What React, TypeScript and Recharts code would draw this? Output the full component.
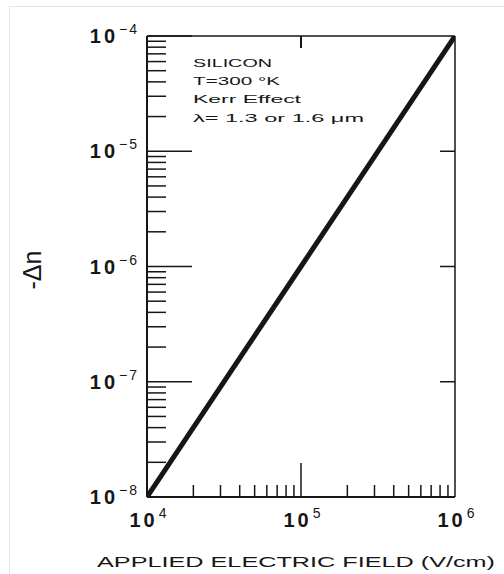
import { Line, LineChart, XAxis, YAxis } from 'recharts';

// Kerr effect in silicon: -Δn vs applied field (log-log)
const fieldValues = [1e4, 1e5, 1e6];
const deltaNValues = [1e-8, 1e-6, 1e-4];

const xDecades = [1e4, 1e5, 1e6];
const xDecadeLabels = ['4', '5', '6'];
const yDecades = [1e-8, 1e-7, 1e-6, 1e-5, 1e-4];
const yDecadeLabels = ['−8', '−7', '−6', '−5', '−4'];
const minorSteps = [2, 3, 4, 5, 6, 7, 8, 9];

const annotationLines = ['SILICON', 'T=300 °K', 'Kerr Effect', 'λ= 1.3 or 1.6 μm'];
const xTitle = 'APPLIED ELECTRIC FIELD (V/cm)';
const yTitle = '-Δn';

const INK = '#161616';
const FONT = '"Liberation Sans", Arial, sans-serif';

// layout
const W = 504;
const H = 574;
const MARGIN = { top: 35, right: 48, bottom: 37, left: 87 };
const X_AXIS_H = 40;
const TOP_AXIS_H = 1;
const PLOT_H = H - MARGIN.top - MARGIN.bottom - X_AXIS_H - TOP_AXIS_H;

const chartData = fieldValues.map((field, i) => ({ field, deltaN: deltaNValues[i] }));

const withMinors = (decades: number[]) => [
  ...decades,
  ...decades.slice(0, -1).flatMap((d) => minorSteps.map((m) => d * m)),
];
const xTicks = withMinors(xDecades);
const yTicks = withMinors(yDecades);

const decadeIndex = (value: number, decades: number[]) =>
  decades.findIndex((d) => Math.abs(value / d - 1) < 1e-6);

function PowerLabel({ x, y, exponent, anchor }: { x: number; y: number; exponent: string; anchor: 'start' | 'middle' | 'end' }) {
  return (
    <text x={x} y={y} textAnchor={anchor} fontFamily={FONT} fill={INK}>
      <tspan fontSize={20} fontWeight="bold" letterSpacing={3}>10</tspan>
      <tspan dx={1} dy={-9} fontSize={14} letterSpacing={2}>{exponent}</tspan>
    </text>
  );
}

function BottomTick({ x, y, payload }: any) {
  const idx = decadeIndex(payload.value, xDecades);
  const len = idx === 1 ? 34 : idx === -1 ? 12 : 0;
  const top = y - PLOT_H;
  return (
    <g>
      {len > 0 && <line x1={x} x2={x} y1={y} y2={y - len} stroke={INK} strokeWidth={1.5} />}
      {idx >= 0 && <PowerLabel x={x + 2} y={y + 30} exponent={xDecadeLabels[idx]} anchor="middle" />}
      {/* 上辺の10^5目盛り */}
      {idx === 1 && <line x1={x} x2={x} y1={top} y2={top + 12} stroke={INK} strokeWidth={2} />}
    </g>
  );
}

function LeftTick({ x, y, payload }: any) {
  const idx = decadeIndex(payload.value, yDecades);
  const len = idx >= 0 ? 45 : 19;
  return (
    <g>
      <line x1={x} x2={x + len} y1={y} y2={y} stroke={INK} strokeWidth={1.5} />
      {idx >= 0 && <PowerLabel x={x - 8} y={y + 7} exponent={yDecadeLabels[idx]} anchor="end" />}
    </g>
  );
}

function RightTick({ x, y }: any) {
  return <line x1={x} x2={x - 15} y1={y} y2={y} stroke={INK} strokeWidth={1.5} />;
}

export default function App() {
  return (
    <div style={{ position: 'absolute', left: 0, top: 0, width: W, height: H, background: '#fff' }}>
      <LineChart width={W} height={H} data={chartData} margin={MARGIN}>
        <XAxis
          dataKey="field"
          type="number"
          scale="log"
          domain={[1e4, 1e6]}
          allowDataOverflow
          ticks={xTicks}
          interval={0}
          height={X_AXIS_H}
          tickSize={0}
          tickMargin={0}
          tickLine={false}
          axisLine={{ stroke: INK, strokeWidth: 2 }}
          tick={(props: any) => <BottomTick {...props} />}
        />
        <XAxis
          xAxisId="top"
          orientation="top"
          type="number"
          scale="log"
          domain={[1e4, 1e6]}
          allowDataOverflow
          height={TOP_AXIS_H}
          tick={false}
          tickLine={false}
          axisLine={{ stroke: INK, strokeWidth: 1.5 }}
        />
        <YAxis
          type="number"
          scale="log"
          domain={[1e-8, 1e-4]}
          allowDataOverflow
          ticks={yTicks}
          interval={0}
          width={60}
          tickSize={0}
          tickMargin={0}
          tickLine={false}
          axisLine={{ stroke: INK, strokeWidth: 2 }}
          tick={(props: any) => <LeftTick {...props} />}
        />
        <YAxis
          yAxisId="right"
          orientation="right"
          type="number"
          scale="log"
          domain={[1e-8, 1e-4]}
          allowDataOverflow
          ticks={yDecades.slice(1, -1)}
          interval={0}
          width={1}
          tickSize={0}
          tickMargin={0}
          tickLine={false}
          axisLine={{ stroke: INK, strokeWidth: 1.5 }}
          tick={(props: any) => <RightTick {...props} />}
        />
        <Line
          type="linear"
          dataKey="deltaN"
          stroke={INK}
          strokeWidth={5}
          dot={false}
          activeDot={false}
          isAnimationActive={false}
        />
      </LineChart>
      <svg width={W} height={H} style={{ position: 'absolute', left: 0, top: 0, pointerEvents: 'none' }}>
        <line x1={9} x2={W} y1={6.5} y2={6.5} stroke="#e6e6e6" />
        <line x1={9.5} x2={9.5} y1={6} y2={H} stroke="#e6e6e6" />
        {annotationLines.map((line, i) => (
          <text
            key={line}
            x={193}
            y={[67, 85, 103, 122][i]}
            fontFamily={FONT}
            fontSize={11}
            fill={INK}
            textLength={[79, 87, 108, 171][i]}
            lengthAdjust="spacingAndGlyphs"
          >
            {line}
          </text>
        ))}
        <text x={97} y={567} fontFamily={FONT} fontSize={15.5} fill={INK} textLength={398} lengthAdjust="spacingAndGlyphs">
          {xTitle}
        </text>
        <text
          x={41}
          y={270}
          transform="rotate(-90, 41, 270)"
          textAnchor="middle"
          fontFamily={FONT}
          fontSize={25}
          fill={INK}
        >
          {yTitle}
        </text>
      </svg>
    </div>
  );
}
